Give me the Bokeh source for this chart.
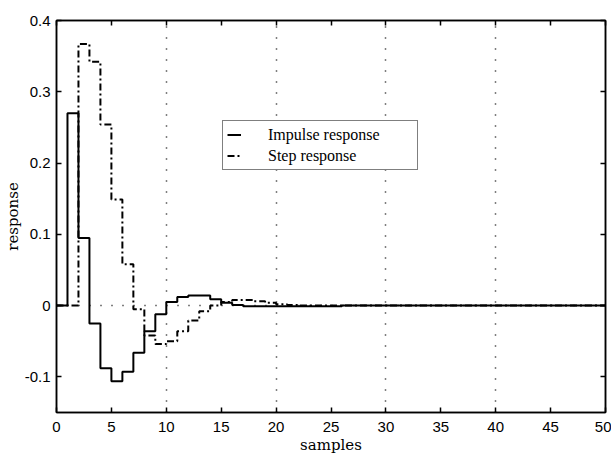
from bokeh.plotting import figure
from bokeh.models import (Range1d, LinearAxis, FixedTicker, Legend, LegendItem,
                          CustomJSTickFormatter, ColumnDataSource)
from bokeh.embed import file_html
from bokeh.resources import INLINE

# ---- data ----
samples = list(range(0, 51))
impulse = [0.0, 0.270, 0.095, -0.025, -0.088, -0.106, -0.093, -0.066, -0.036, -0.012,
           0.005, 0.012, 0.014, 0.014, 0.009, 0.004, 0.001, -0.001, -0.001, -0.001,
           -0.001, -0.001, -0.001, -0.001, -0.001, -0.001, 0.0, 0.0, 0.0, 0.0,
           0.0, 0.0, 0.0, 0.0, 0.0, 0.0, 0.0, 0.0, 0.0, 0.0,
           0.0, 0.0, 0.0, 0.0, 0.0, 0.0, 0.0, 0.0, 0.0, 0.0, 0.0]
step_resp = [0.0, 0.0, 0.367, 0.342, 0.254, 0.149, 0.058, -0.005, -0.042, -0.054,
             -0.050, -0.036, -0.021, -0.008, 0.000, 0.005, 0.008, 0.008, 0.006, 0.004,
             0.002, 0.001, 0.0, 0.0, 0.0, 0.0, 0.0, 0.0, 0.0, 0.0,
             0.0, 0.0, 0.0, 0.0, 0.0, 0.0, 0.0, 0.0, 0.0, 0.0,
             0.0, 0.0, 0.0, 0.0, 0.0, 0.0, 0.0, 0.0, 0.0, 0.0, 0.0]
x_ticks = [0, 5, 10, 15, 20, 25, 30, 35, 40, 45, 50]
y_ticks = [-0.1, 0, 0.1, 0.2, 0.3, 0.4]
x_grid = [10, 20, 30, 40]
y_grid = [0]
series_names = ["Impulse response", "Step response"]

src = ColumnDataSource(dict(n=samples, imp=impulse, stp=step_resp))

p = figure(width=611, height=456, output_backend="svg", toolbar_location=None,
           x_range=Range1d(0, 50), y_range=Range1d(-0.15, 0.4),
           min_border_left=55, min_border_right=6, min_border_top=20, min_border_bottom=44,
           background_fill_color="white", border_fill_color="white")
p.outline_line_color = "black"
p.outline_line_width = 1.5

fmt = CustomJSTickFormatter(code="return String(Math.round(tick*10)/10);")

tick_font = "Liberation Sans"
label_font = "DejaVu Serif"

xa = p.xaxis[0]
xa.ticker = FixedTicker(ticks=x_ticks)
xa.formatter = fmt
xa.axis_label = "samples"
ya = p.yaxis[0]
ya.ticker = FixedTicker(ticks=y_ticks)
ya.formatter = fmt
ya.axis_label = "response"

for ax in (xa, ya):
    ax.major_tick_in = 5
    ax.major_tick_out = 0
    ax.minor_tick_line_color = None
    ax.major_tick_line_color = "black"
    ax.major_tick_line_width = 1.5
    ax.axis_line_color = "black"
    ax.axis_line_width = 1.5
    ax.major_label_text_font = tick_font
    ax.major_label_text_font_size = "15px"
    ax.major_label_text_color = "black"
    ax.axis_label_text_font = label_font
    ax.axis_label_text_font_size = "15px"
    ax.axis_label_text_font_style = "normal"
    ax.axis_label_text_color = "black"

xa.major_label_standoff = 9
xa.axis_label_standoff = 1
ya.major_label_standoff = 6
ya.axis_label_standoff = 0

top = LinearAxis(ticker=FixedTicker(ticks=x_ticks), major_label_text_font_size="0px",
                 major_label_text_color=None,
                 major_label_standoff=0, major_tick_in=5, major_tick_out=0,
                 minor_tick_line_color=None, axis_line_width=1.5, major_tick_line_width=1.5)
right = LinearAxis(ticker=FixedTicker(ticks=y_ticks), major_label_text_font_size="0px",
                   major_label_text_color=None,
                   major_label_standoff=0, major_tick_in=5, major_tick_out=0,
                   minor_tick_line_color=None, axis_line_width=1.5, major_tick_line_width=1.5)
p.add_layout(top, "above")
p.add_layout(right, "right")

p.xgrid.ticker = FixedTicker(ticks=x_grid)
p.ygrid.ticker = FixedTicker(ticks=y_grid)
for g in (p.xgrid[0], p.ygrid[0]):
    g.grid_line_color = "black"
    g.grid_line_dash = "1 10"
    g.grid_line_width = 1.5

r_imp = p.step("n", "imp", source=src, mode="after", line_color="black", line_width=2)
r_stp = p.step("n", "stp", source=src, mode="after", line_color="black", line_width=2,
               line_dash="7 3 2 3")

legend = Legend(items=[LegendItem(label=series_names[0], renderers=[r_imp]),
                       LegendItem(label=series_names[1], renderers=[r_stp])],
                location=(166, 242), margin=0, padding=4, spacing=2,
                glyph_width=14, glyph_height=19, label_height=19, label_width=145,
                label_standoff=27, label_text_font="Liberation Serif",
                label_text_font_size="16px", label_text_color="black",
                border_line_color="black", border_line_width=1.5,
                background_fill_color="white", background_fill_alpha=1.0)
p.add_layout(legend, "center")

open("out.html", "w").write(file_html(p, INLINE))
